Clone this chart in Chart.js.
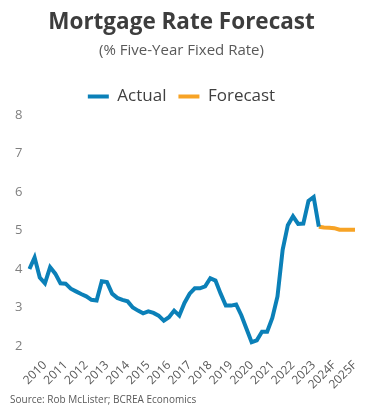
<!DOCTYPE html>
<html>
<head>
<meta charset="utf-8">
<script src="https://cdn.jsdelivr.net/npm/chart.js@4.4.1/dist/chart.umd.min.js"></script>
<style>
  html, body { margin: 0; padding: 0; background: #fff; }
  #wrap { position: relative; width: 379px; height: 406px; }
  #source {
    position: absolute; left: 10px; top: 392px;
    font: 10px "Open Sans", sans-serif; color: #595959;
  }
</style>
</head>
<body>
<div id="wrap">
  <canvas id="rate-chart"></canvas>
  <div id="source">Source: Rob McLister; BCREA Economics</div>
</div>
<script>
//? tick labels, one per year (placed on the 4th quarter)
const years = ['2010', '2011', '2012', '2013', '2014', '2015', '2016', '2017',
    '2018', '2019', '2020', '2021', '2022', '2023', '2024F', '2025F']

//? quarterly five-year fixed rate, %
const actual = [4.0, 4.3, 3.78, 3.63, 4.05, 3.88, 3.63, 3.62,
    3.49, 3.42, 3.35, 3.29, 3.2, 3.18, 3.68, 3.66,
    3.36, 3.25, 3.2, 3.16, 3.0, 2.92, 2.85, 2.9,
    2.86, 2.79, 2.66, 2.75, 2.92, 2.79, 3.12, 3.36,
    3.5, 3.5, 3.55, 3.76, 3.7, 3.36, 3.05, 3.05,
    3.08, 2.8, 2.45, 2.1, 2.15, 2.37, 2.37, 2.73,
    3.29, 4.5, 5.14, 5.37, 5.17, 5.18, 5.77, 5.87,
    5.1]

const forecast = [5.1, 5.08, 5.07, 5.06, 5.02, 5.02, 5.02, 5.02]

const labels = []
years.forEach(y => labels.push('', '', '', y))

// forecast picks up at the last actual quarter
const forecastData = labels.map((_, i) => {
    const k = i - (actual.length - 1)
    return k >= 0 && k < forecast.length ? forecast[k] : null
})

const dataRate = {
    labels: labels,
    datasets: [
        {
            label: 'Actual',
            data: actual,
            borderColor: '#0b80b8',
            backgroundColor: '#0b80b8',
            borderWidth: 4,
            pointRadius: 0,
            tension: 0
        },
        {
            label: 'Forecast',
            data: forecastData,
            borderColor: '#f7a325',
            backgroundColor: '#f7a325',
            borderWidth: 4,
            pointRadius: 0,
            tension: 0
        }
    ]
}

const configRate = {
    type: 'line',
    data: dataRate,
    options: {
        responsive: true,
        maintainAspectRatio: false,
        animation: false,
        layout: { padding: { left: 8, right: 24, top: 0, bottom: 2 } },
        plugins: {
            title: {
                display: true,
                text: 'Mortgage Rate Forecast',
                color: '#3d3d3d',
                font: { family: 'Open Sans', size: 22.5, weight: 'bold' },
                padding: { top: 9, bottom: 6 }
            },
            subtitle: {
                display: true,
                text: '(% Five-Year Fixed Rate)',
                color: '#595959',
                font: { family: 'Open Sans', size: 15 },
                padding: { top: 0, bottom: 16 }
            },
            legend: {
                labels: {
                    usePointStyle: true,
                    pointStyle: 'line',
                    pointStyleWidth: 21,
                    boxHeight: 4,
                    color: '#404040',
                    font: { family: 'Open Sans', size: 17 },
                    padding: 12
                }
            },
            tooltip: { enabled: false }
        },
        scales: {
            x: {
                grid: { display: false, drawTicks: false },
                border: { display: false },
                ticks: {
                    autoSkip: false,
                    maxRotation: 45,
                    minRotation: 45,
                    padding: 12,
                    color: '#595959',
                    font: { family: 'Open Sans', size: 12 }
                }
            },
            y: {
                min: 2,
                max: 8,
                grid: { display: false, drawTicks: false },
                border: { display: false },
                ticks: {
                    stepSize: 1,
                    padding: 7,
                    color: '#7f7f7f',
                    font: { family: 'Open Sans', size: 13 }
                }
            }
        }
    }
}

const rateCanvas = document.getElementById('rate-chart')

const rateChart = new Chart(rateCanvas, configRate)

rateChart.canvas.parentNode.style.width = "379px"
rateChart.canvas.parentNode.style.height = "406px"
</script>
</body>
</html>
